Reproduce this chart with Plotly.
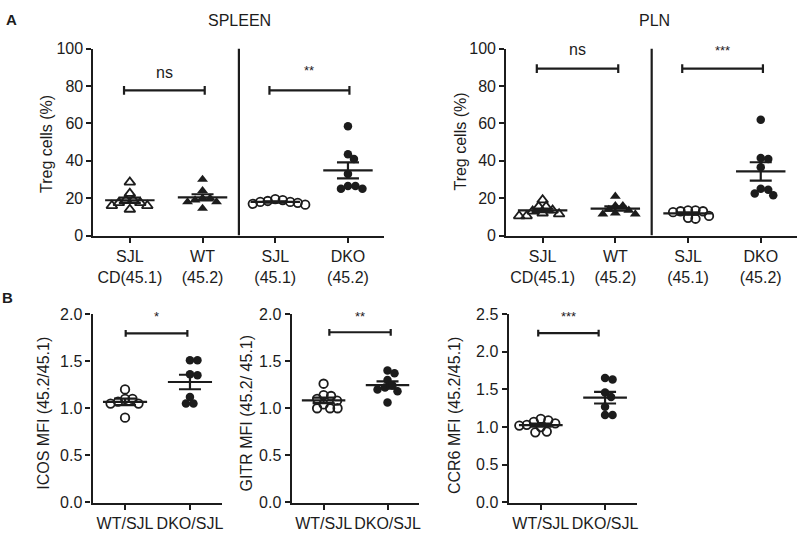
import numpy as np
import plotly.graph_objects as go

# ---------------- data ----------------
cat_a = ["SJL<br>CD(45.1)", "WT<br>(45.2)", "SJL<br>(45.1)", "DKO<br>(45.2)"]
spleen_sjl_cd = [28.5, 22.5, 19.0, 19.0, 17.5, 17.5, 16.0, 16.0, 14.0]
spleen_wt = [30.0, 24.0, 20.0, 20.0, 19.0, 18.0, 18.0, 14.5]
spleen_sjl = [19.5, 19.0, 18.5, 18.0, 18.0, 17.5, 17.0, 16.5]
spleen_dko = [58.5, 43.5, 41.0, 33.0, 26.5, 26.5, 25.0, 25.0]
pln_sjl_cd = [19.0, 15.5, 15.5, 13.5, 13.0, 12.0, 11.5, 10.5, 10.5]
pln_wt = [21.0, 16.0, 16.0, 14.0, 13.5, 12.0, 11.5, 11.5]
pln_sjl = [13.5, 13.5, 13.0, 13.0, 12.5, 10.5, 9.5, 9.0]
pln_dko = [62.0, 41.5, 41.0, 36.5, 25.0, 24.5, 22.5, 21.5]

cat_b = ["WT/SJL", "DKO/SJL"]
icos_wt = [1.20, 1.10, 1.10, 1.07, 1.05, 1.05, 0.90]
icos_dko = [1.51, 1.51, 1.36, 1.35, 1.12, 1.05, 1.05]
gitr_wt = [1.26, 1.14, 1.13, 1.10, 1.08, 1.04, 1.00, 1.00, 1.00]
gitr_dko = [1.40, 1.37, 1.30, 1.24, 1.22, 1.20, 1.18, 1.06]
ccr6_wt = [1.11, 1.09, 1.07, 1.05, 1.03, 1.02, 1.00, 0.94, 0.93]
ccr6_dko = [1.65, 1.63, 1.46, 1.40, 1.27, 1.16, 1.16]

sig_spleen = ["ns", "**"]
sig_pln = ["ns", "***"]
sig_b = ["*", "**", "***"]

# ---------------- style ----------------
FONT = "Liberation Sans, Arial, Helvetica, sans-serif"
INK = "#1c1c1c"
W, H = 800, 536

sym_a = ["triangle-up-open", "triangle-up", "circle-open", "circle"]
sym_b = ["circle-open", "circle"]

specs = [
    dict(xpx=(93.6, 384.8), ypx=(42, 235), xr=(0.5, 4.5), yr=(0, 100), dtick=20, fmt="d",
         cats=cat_a, groups=[spleen_sjl_cd, spleen_wt, spleen_sjl, spleen_dko], syms=sym_a,
         brackets=[(0.92, 2.03, 77.7, sig_spleen[0], 87.5), (2.92, 4.02, 77.7, sig_spleen[1], 88.5)],
         divider=True, cap=4.5),
    dict(xpx=(506.9, 798.1), ypx=(42, 235), xr=(0.5, 4.5), yr=(0, 100), dtick=20, fmt="d",
         cats=cat_a, groups=[pln_sjl_cd, pln_wt, pln_sjl, pln_dko], syms=sym_a,
         brackets=[(0.92, 2.04, 89.3, sig_pln[0], 99.5), (2.92, 4.03, 89.3, sig_pln[1], 99.0)],
         divider=True, cap=4.5),
    dict(xpx=(92.7, 222.7), ypx=(316, 510.7), xr=(0.5, 2.5), yr=(0, 2.0), dtick=0.5, fmt=".1f",
         cats=cat_b, groups=[icos_wt, icos_dko], syms=sym_b,
         brackets=[(1.01, 1.96, 1.795, sig_b[0], 1.975)], divider=False, cap=3.5),
    dict(xpx=(292.0, 420.0), ypx=(316, 510.7), xr=(0.5, 2.5), yr=(0, 2.0), dtick=0.5, fmt=".1f",
         cats=cat_b, groups=[gitr_wt, gitr_dko], syms=sym_b,
         brackets=[(1.09, 2.05, 1.806, sig_b[1], 1.975)], divider=False, cap=3.5),
    dict(xpx=(509.3, 638.0), ypx=(316, 510.7), xr=(0.5, 2.5), yr=(0, 2.5), dtick=0.5, fmt=".1f",
         cats=cat_b, groups=[ccr6_wt, ccr6_dko], syms=sym_b,
         brackets=[(0.96, 1.90, 2.245, sig_b[2], 2.47)], divider=False, cap=3.5),
]


def swarm(vals, sx, sy, d=7.5):
    vals = np.asarray(vals, float)
    order = np.argsort(-vals)
    placed = []
    offs = np.zeros(len(vals))
    for i in order:
        ypx = vals[i] * sy
        best = None
        for k in range(0, 80):
            for sgn in ([0] if k == 0 else [1, -1]):
                xp = sgn * k * 0.5
                if all((xp - a) ** 2 + (ypx - b) ** 2 >= d * d for a, b in placed):
                    best = xp
                    break
            if best is not None:
                break
        placed.append((best, ypx))
        offs[i] = best / sx
    return offs


fig = go.Figure()
layout = dict(width=W, height=H, margin=dict(l=0, r=0, t=0, b=0), autosize=False,
              paper_bgcolor="white", plot_bgcolor="white", showlegend=False,
              font=dict(family=FONT, color=INK, size=16))
shapes = []
annotations = []

for i, s in enumerate(specs):
    n = i + 1
    xa = "x" if n == 1 else f"x{n}"
    ya = "y" if n == 1 else f"y{n}"
    sx = (s["xpx"][1] - s["xpx"][0]) / (s["xr"][1] - s["xr"][0])
    sy = (s["ypx"][1] - s["ypx"][0]) / (s["yr"][1] - s["yr"][0])
    for gi, (vals, sym) in enumerate(zip(s["groups"], s["syms"])):
        c = gi + 1
        offs = swarm(vals, sx, sy)
        open_ = sym.endswith("open")
        fig.add_trace(go.Scatter(
            x=c + offs, y=vals, mode="markers", xaxis=xa, yaxis=ya, cliponaxis=False,
            marker=dict(symbol=sym, size=8.5 if "circle" in sym else 9.5,
                        color=INK, line=dict(color=INK, width=1.8 if open_ else 0))))
        arr = np.asarray(vals, float)
        m = arr.mean()
        sem = arr.std(ddof=1) / np.sqrt(len(arr))
        fig.add_trace(go.Scatter(x=[c - 0.34, c + 0.34], y=[m, m], mode="lines",
                                 xaxis=xa, yaxis=ya, line=dict(color=INK, width=2.2),
                                 cliponaxis=False))
        fig.add_trace(go.Scatter(x=[c], y=[m], mode="markers", xaxis=xa, yaxis=ya,
                                 marker=dict(size=1, color="rgba(0,0,0,0)"),
                                 error_y=dict(type="data", array=[sem], visible=True,
                                              color=INK, thickness=2.2, width=11)))
    capu = s["cap"] / sy
    for (a, b, yb, txt, yt) in s["brackets"]:
        fig.add_trace(go.Scatter(
            x=[a, a, None, a, b, None, b, b],
            y=[yb - capu, yb + capu, None, yb, yb, None, yb - capu, yb + capu],
            mode="lines", xaxis=xa, yaxis=ya, cliponaxis=False,
            line=dict(color=INK, width=2.2)))
        annotations.append(dict(x=(a + b) / 2, y=yt, xref=xa, yref=ya, text=txt,
                                showarrow=False, xanchor="center", yanchor="middle",
                                font=dict(size=16 if txt == "ns" else 13, color=INK)))
    if s["divider"]:
        shapes.append(dict(type="line", xref=xa, yref=ya, x0=2.5, x1=2.5, y0=0, y1=101,
                           line=dict(color=INK, width=2.2)))
    axcommon = dict(showline=True, linecolor=INK, linewidth=2.2, ticks="outside", ticklen=5,
                    tickwidth=2, tickcolor=INK, showgrid=False, zeroline=False,
                    tickfont=dict(size=16, color=INK, family=FONT), fixedrange=True)
    layout["xaxis" if n == 1 else f"xaxis{n}"] = dict(
        domain=[s["xpx"][0] / W, s["xpx"][1] / W], range=list(s["xr"]), anchor=ya,
        tickvals=list(range(1, len(s["cats"]) + 1)), ticktext=s["cats"], **axcommon)
    layout["yaxis" if n == 1 else f"yaxis{n}"] = dict(
        domain=[1 - s["ypx"][1] / H, 1 - s["ypx"][0] / H], range=list(s["yr"]), anchor=xa,
        tick0=0, dtick=s["dtick"], tickformat=s["fmt"], **axcommon)


def ann_px(x, y, text, size=16, angle=0, bold=False):
    annotations.append(dict(x=x / W, y=1 - y / H, xref="paper", yref="paper",
                            text=f"<b>{text}</b>" if bold else text, showarrow=False,
                            xanchor="center", yanchor="middle", textangle=angle,
                            font=dict(size=size, color=INK, family=FONT)))


ann_px(12, 12, "A", 15, bold=True)
ann_px(8, 299, "B", 15, bold=True)
ann_px(240, 13, "SPLEEN")
ann_px(655, 13, "PLN")
ann_px(46.5, 140, "Treg cells (%)", angle=-90)
ann_px(461.5, 138, "Treg cells (%)", angle=-90)
ann_px(44, 418, "ICOS MFI (45.2/45.1)", angle=-90)
ann_px(247, 419, "GITR MFI (45.2/ 45.1)", angle=-90)
ann_px(455, 421, "CCR6 MFI (45.2/45.1)", angle=-90)

layout["shapes"] = shapes
layout["annotations"] = annotations
fig.update_layout(**layout)
fig.write_html("out.html", config={"displayModeBar": False},
               post_script="document.body.style.margin='0';document.body.style.overflow='hidden';")
